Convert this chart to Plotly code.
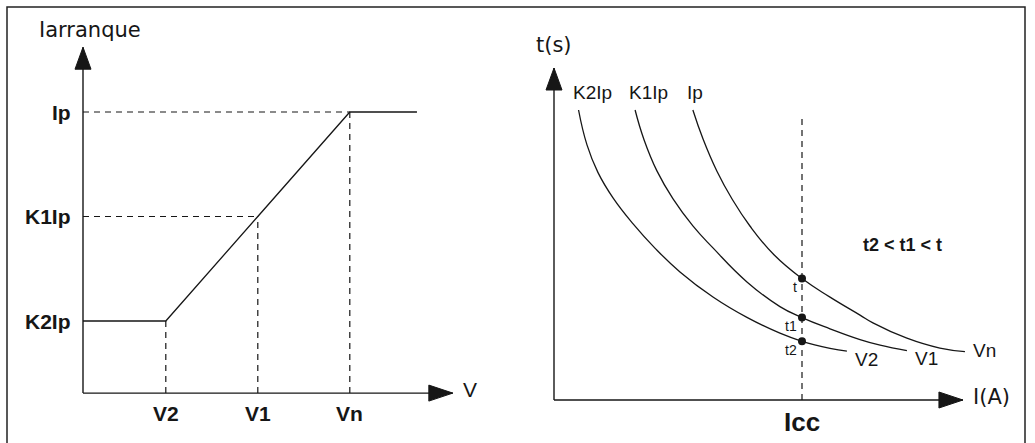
import plotly.graph_objects as go

W, H = 1035, 443

# ---------------- data : left panel (starting current vs voltage) ----------------
v_labels = ["V2", "V1", "Vn"]
v_values = [1.0, 2.0, 3.0]
i_labels = ["K2Ip", "K1Ip", "Ip"]
i_values = [1.0, 2.0, 3.0]
v_origin = 0.1
i_origin = 0.31
v_axis_end = 4.12
i_axis_end = 3.62
char_v = [0.1, 1.0, 2.0, 3.0, 3.73]
char_i = [1.0, 1.0, 2.0, 3.0, 3.0]

# ---------------- data : right panel (time vs current curves) ----------------
curve_names = ["K2Ip", "K1Ip", "Ip"]
curve_end_labels = ["V2", "V1", "Vn"]
k2_I = [0.099, 0.133, 0.177, 0.238, 0.319, 0.407, 0.508, 0.641, 0.778, 0.911, 1.0, 1.113, 1.181]
k2_t = [2.90, 2.551, 2.276, 2.021, 1.761, 1.519, 1.281, 1.03, 0.826, 0.668, 0.587, 0.517, 0.488]
k1_I = [0.327, 0.363, 0.415, 0.480, 0.560, 0.641, 0.778, 0.911, 1.0, 1.113, 1.234, 1.315, 1.423]
k1_t = [2.90, 2.603, 2.291, 2.011, 1.741, 1.521, 1.181, 0.934, 0.824, 0.712, 0.604, 0.548, 0.494]
ip_I = [0.560, 0.601, 0.657, 0.718, 0.790, 0.887, 1.0, 1.113, 1.234, 1.286, 1.423, 1.556, 1.657]
ip_t = [2.90, 2.61, 2.288, 2.01, 1.74, 1.452, 1.214, 1.029, 0.849, 0.771, 0.618, 0.519, 0.484]
curves_I = [k2_I, k1_I, ip_I]
curves_t = [k2_t, k1_t, ip_t]
icc = 1.0
icc_top = 2.83
point_labels = ["t2", "t1", "t"]
point_t = [0.587, 0.824, 1.214]
I_axis_end = 1.649
t_axis_end = 3.32

# ---------------- layout: pixel mapping of each panel ----------------
L_X0, L_XS = 73.8, 92.0      # px = L_X0 + L_XS * V
L_Y0, L_YS = 425.5, 104.5    # py = L_Y0 - L_YS * I
R_X0, R_XS = 554.0, 248.0
R_Y0, R_YS = 400.0, 100.0

INK = "#161616"
FONT = "Liberation Sans"
DASH = "6px,5px"

fig = go.Figure()


def line(x, y, ax, dash=None, width=1.4):
    fig.add_trace(go.Scatter(x=x, y=y, mode="lines", xaxis=ax[0], yaxis=ax[1],
                             line=dict(color=INK, width=width, dash=dash),
                             hoverinfo="skip", showlegend=False))


L = ("x", "y")
R = ("x2", "y2")

# left axes
line([v_origin, v_axis_end], [i_origin, i_origin], L)
line([v_origin, v_origin], [i_origin, i_axis_end], L)
# characteristic
line(char_v, char_i, L, width=1.3)
# dashed guides
for v, i in zip(v_values, i_values):
    line([v, v], [i_origin, i], L, dash=DASH, width=1.2)
for v, i in zip(v_values[1:], i_values[1:]):
    line([v_origin, v], [i, i], L, dash=DASH, width=1.2)

# right axes
line([0, I_axis_end], [0, 0], R)
line([0, 0], [0, t_axis_end], R)
line([icc, icc], [0, icc_top], R, dash=DASH, width=1.2)
for cI, ct in zip(curves_I, curves_t):
    fig.add_trace(go.Scatter(x=cI, y=ct, mode="lines", xaxis="x2", yaxis="y2",
                             line=dict(color=INK, width=1.3, shape="spline", smoothing=1.3),
                             hoverinfo="skip", showlegend=False))
fig.add_trace(go.Scatter(x=[icc] * 3, y=point_t, mode="markers", xaxis="x2", yaxis="y2",
                         marker=dict(color=INK, size=8), hoverinfo="skip", showlegend=False))

# arrowheads
shapes = []


def arrow(xref, yref, xa, ya, path):
    shapes.append(dict(type="path", xref=xref, yref=yref, xsizemode="pixel", ysizemode="pixel",
                       xanchor=xa, yanchor=ya, path=path, fillcolor=INK,
                       line=dict(color=INK, width=1)))


RIGHT = "M0,0 L-24,8 L-24,-8 Z"
UP = "M0,0 L-8,-22 L8,-22 Z"
arrow("x", "y", v_axis_end, i_origin, RIGHT)
arrow("x", "y", v_origin, i_axis_end, UP)
arrow("x2", "y2", I_axis_end, 0, RIGHT)
arrow("x2", "y2", 0, t_axis_end, UP)

# frame
shapes.append(dict(type="rect", xref="paper", yref="paper", x0=7 / W, x1=1025 / W,
                   y0=-0.05, y1=1 - 7 / H, line=dict(color="#222", width=1.5)))

ann = []


def text(t, x, y, xref, yref, size=21, xanchor="center", yanchor="middle",
         xshift=0, yshift=0, bold=False, family=FONT):
    ann.append(dict(text=f"<b>{t}</b>" if bold else t, x=x, y=y, xref=xref, yref=yref,
                    showarrow=False, xanchor=xanchor, yanchor=yanchor,
                    xshift=xshift, yshift=yshift,
                    font=dict(family=family, size=size, color=INK)))


# left labels
for lab, i in zip(i_labels, i_values):
    text(lab, v_origin, i, "x", "y", size=21, bold=True, xanchor="right", xshift=-10)
for lab, v in zip(v_labels, v_values):
    text(lab, v, i_origin, "x", "y", size=21, bold=True, yshift=-20)
text("V", v_axis_end, i_origin, "x", "y", size=21, xanchor="left", xshift=8, yshift=4)
text("Iarranque", v_origin, i_axis_end, "x", "y", size=21, family="DejaVu Sans",
     xshift=7, yshift=17)

# right labels
for lab, cI, ct in zip(curve_names, curves_I, curves_t):
    text(lab, cI[0], ct[0], "x2", "y2", size=19, xanchor="left", xshift=-8, yshift=18)
for k, (lab, cI, ct) in enumerate(zip(curve_end_labels, curves_I, curves_t)):
    text(lab, cI[-1], ct[-1], "x2", "y2", size=19, xanchor="left",
         xshift=6, yshift=(-8 if k < 2 else 1))
for k, (lab, t) in enumerate(zip(point_labels, point_t)):
    text(lab, icc, t, "x2", "y2", size=14, xanchor="right", xshift=-3,
         yshift=[-9, -8, -8][k])
text("t2 &lt; t1 &lt; t", 1.407, 1.55, "x2", "y2", size=18, bold=True)
text("t(s)", 0, t_axis_end, "x2", "y2", size=21, family="DejaVu Sans", yshift=23)
text("I(A)", I_axis_end, 0, "x2", "y2", size=21, family="DejaVu Sans",
     xanchor="left", xshift=8, yshift=3)
text("Icc", icc, 0, "x2", "y2", size=26, bold=True, yshift=-22)


def xr(x0, xs):
    return [(0 - x0) / xs, (W - x0) / xs]


def yr(y0, ys):
    return [(y0 - H) / ys, y0 / ys]


ax_common = dict(visible=False, showgrid=False, zeroline=False, fixedrange=True)
fig.update_layout(
    width=W, height=H, margin=dict(l=0, r=0, t=0, b=0),
    paper_bgcolor="white", plot_bgcolor="white", showlegend=False,
    xaxis=dict(range=xr(L_X0, L_XS), domain=[0, 1], **ax_common),
    yaxis=dict(range=yr(L_Y0, L_YS), domain=[0, 1], **ax_common),
    xaxis2=dict(range=xr(R_X0, R_XS), domain=[0, 1], overlaying="x", anchor="y2", **ax_common),
    yaxis2=dict(range=yr(R_Y0, R_YS), domain=[0, 1], overlaying="y", anchor="x2", **ax_common),
    shapes=shapes, annotations=ann,
)

fig.write_html("out.html", config={"displayModeBar": False},
               post_script="document.body.style.margin='0px';document.body.style.overflow='hidden';")
